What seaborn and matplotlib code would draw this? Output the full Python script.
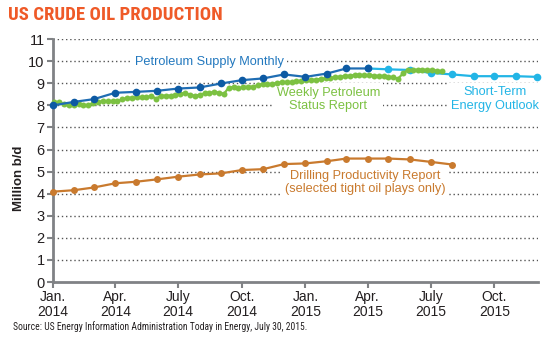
import matplotlib
matplotlib.use("Agg")
import matplotlib.pyplot as plt
import numpy as np
import pandas as pd
import seaborn as sns

# --- data (million barrels per day) ---
psm_start = "2014-01-01"
psm_values = [8.00, 8.16, 8.28, 8.57, 8.61, 8.66, 8.76, 8.81, 8.99, 9.14,
              9.22, 9.40, 9.29, 9.44, 9.67, 9.67]

steo_start = "2015-04-01"
steo_values = [9.67, 9.63, 9.60, 9.47, 9.40, 9.32, 9.32, 9.32, 9.29]

dpr_start = "2014-01-01"
dpr_values = [4.09, 4.16, 4.28, 4.47, 4.54, 4.65, 4.77, 4.87, 4.92, 5.07,
              5.11, 5.34, 5.37, 5.47, 5.59, 5.59, 5.59, 5.55, 5.44, 5.32]

wpsr_start = "2014-01-03"
wpsr_values = [8.13, 8.15, 8.05, 8.02, 8.02, 8.07, 8.03, 8.00, 8.10, 8.17,
               8.18, 8.18, 8.18, 8.18, 8.27, 8.34, 8.35, 8.37, 8.37, 8.36,
               8.43, 8.30, 8.44, 8.44, 8.44, 8.48, 8.53, 8.56, 8.48, 8.43,
               8.48, 8.54, 8.57, 8.60, 8.58, 8.52, 8.80, 8.84, 8.77, 8.83,
               8.84, 8.85, 8.91, 8.98, 8.96, 8.97, 9.02, 9.05, 9.06, 9.06,
               9.10, 9.11, 9.13, 9.14, 9.17, 9.20, 9.22, 9.25, 9.28, 9.30,
               9.33, 9.35, 9.37, 9.38, 9.37, 9.37, 9.35, 9.33, 9.33, 9.30,
               9.27, 9.21, 9.45, 9.60, 9.61, 9.61, 9.61, 9.61, 9.60, 9.57,
               9.55]

tick_dates = ["2014-01-01", "2014-04-01", "2014-07-01", "2014-10-01",
              "2015-01-01", "2015-04-01", "2015-07-01", "2015-10-01"]
tick_labels = ["Jan.\n2014", "Apr.\n2014", "July\n2014", "Oct.\n2014",
               "Jan.\n2015", "Apr.\n2015", "July\n2015", "Oct.\n2015"]

psm = pd.DataFrame({"date": pd.date_range(psm_start, periods=len(psm_values), freq="MS"),
                    "value": psm_values})
steo = pd.DataFrame({"date": pd.date_range(steo_start, periods=len(steo_values), freq="MS"),
                     "value": steo_values})
dpr = pd.DataFrame({"date": pd.date_range(dpr_start, periods=len(dpr_values), freq="MS"),
                    "value": dpr_values})
wpsr = pd.DataFrame({"date": pd.date_range(wpsr_start, periods=len(wpsr_values), freq="7D"),
                     "value": wpsr_values})

# --- style ---
sns.set_theme(style="white")
plt.rcParams["font.family"] = ["Liberation Sans", "DejaVu Sans"]
narrow = ["Roboto Condensed", "Archivo Narrow", "PT Sans Narrow", "Liberation Sans"]

C_PSM = "#1f6db3"
C_PSM_M = "#0d5aa3"
C_STEO = "#22b5e6"
C_WPSR = "#7cc142"
C_DPR = "#c97a2e"
AXIS_GRAY = "#808285"
TEXT = "#231f20"

fig = plt.figure(figsize=(5.5, 3.37), dpi=100)
ax = fig.add_axes([0.0964, 0.1632, 0.978 - 0.0964, 0.884 - 0.1632])

sns.lineplot(data=steo, x="date", y="value", ax=ax, color=C_STEO, lw=1.6,
             marker="o", markersize=5.5, markeredgewidth=0, zorder=4)
sns.lineplot(data=wpsr, x="date", y="value", ax=ax, color=C_WPSR, lw=1.6,
             marker="o", markersize=4.3, markeredgewidth=0, zorder=5)
sns.lineplot(data=psm, x="date", y="value", ax=ax, color=C_PSM, lw=1.6,
             marker="o", markersize=5.5, markeredgewidth=0,
             markerfacecolor=C_PSM_M, zorder=6)
sns.lineplot(data=dpr, x="date", y="value", ax=ax, color=C_DPR, lw=1.6,
             marker="o", markersize=5, markeredgewidth=0, zorder=5)
for ln in ax.lines:
    ln.set_clip_on(False)

ax.set_xlim(pd.Timestamp("2014-01-01"), pd.Timestamp("2015-12-03"))
ax.set_ylim(0, 11)
ax.set_yticks(range(0, 12))
ax.set_yticklabels([str(v) for v in range(0, 12)], fontsize=10.5, color=TEXT)
ax.set_xticks(pd.to_datetime(tick_dates))
ax.set_xticklabels(tick_labels, fontsize=10, color=TEXT, linespacing=1.1)
ax.set_xlabel("")
ax.set_ylabel("")

# dotted gridlines
for v in range(1, 12):
    ax.axhline(v, color="#555555", lw=1.0, ls=(0, (1, 2)), zorder=1)

for side in ["top", "right"]:
    ax.spines[side].set_visible(False)
for side in ["left", "bottom"]:
    ax.spines[side].set_color(AXIS_GRAY)
    ax.spines[side].set_linewidth(2)
ax.tick_params(axis="both", which="major", direction="out", length=4,
               width=1.5, color=AXIS_GRAY, pad=2, left=True, bottom=True)

# series labels
box = dict(facecolor="white", edgecolor="none", pad=2.5)
LBL = 9.2
ax.text(pd.Timestamp("2014-04-29"), 9.95, "Petroleum Supply Monthly", color="#2278be",
        fontsize=LBL, ha="left", va="center", bbox=box, zorder=3)
ax.text(pd.Timestamp("2015-02-03"), 8.26, "Weekly Petroleum\nStatus Report", color=C_WPSR,
        fontsize=LBL, ha="center", va="center", multialignment="center",
        linespacing=1.15, bbox=box, zorder=3)
ax.text(pd.Timestamp("2015-10-02"), 8.28, "Short-Term\nEnergy Outlook", color=C_STEO,
        fontsize=LBL, ha="center", va="center", multialignment="center",
        linespacing=1.15, bbox=box, zorder=3)
ax.text(pd.Timestamp("2015-03-28"), 4.52, "Drilling Productivity Report\n(selected tight oil plays only)",
        color=C_DPR, fontsize=LBL, ha="center", va="center", multialignment="center",
        linespacing=1.15, bbox=box, zorder=3)

fig.text(0.034, 0.47, "Million b/d", rotation=90, fontsize=9.5, fontweight="bold",
         color=TEXT, ha="center", va="center")
fig.text(0.014, 0.955, "US CRUDE OIL PRODUCTION", fontsize=13.5, fontweight="bold",
         color="#ef5a28", family=narrow, ha="left", va="center")
fig.text(0.024, 0.030, "Source: US Energy Information Administration Today in Energy, July 30, 2015.",
         fontsize=6.9, color=TEXT, family=narrow, ha="left", va="center")

fig.savefig("out.png", dpi=100)
